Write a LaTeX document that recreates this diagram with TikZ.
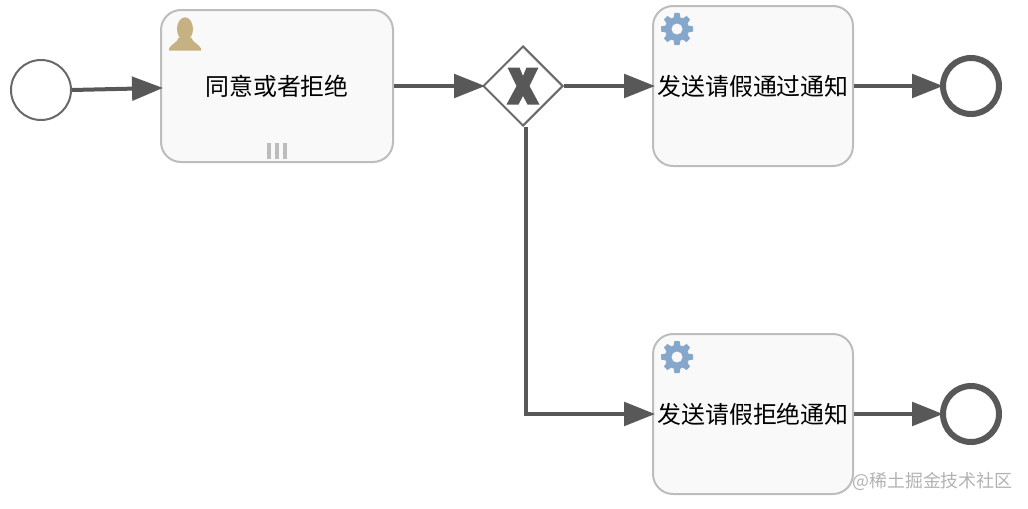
\documentclass[tikz,border=0pt]{standalone}
\usepackage{fontspec}
\setmainfont{Noto Sans CJK SC}
\usepackage{xcolor}
\usetikzlibrary{arrows.meta,positioning,calc,shapes.geometric}
\definecolor{flowgray}{HTML}{585858}
\definecolor{taskline}{HTML}{BDBDBD}
\definecolor{taskfill}{HTML}{F9F9F9}
\definecolor{usertan}{HTML}{C6B183}
\definecolor{gearblue}{HTML}{86A7CC}
\tikzset{
  startev/.style ={circle,draw=flowgray!90,line width=0.04cm,minimum size=1.2cm,inner sep=0pt},
  endev/.style   ={circle,draw=flowgray,line width=0.12cm,minimum size=1.12cm,inner sep=0pt},
  task/.style    ={draw=taskline,line width=0.04cm,fill=taskfill,rounded corners=0.4cm,inner sep=0pt,font=\fontsize{13.6}{16}\selectfont},
  usertask/.style={task,minimum width=4.64cm,minimum height=3.04cm},
  svctask/.style ={task,minimum width=4cm,minimum height=3.2cm},
  xorgate/.style ={diamond,draw=flowgray!90,line width=0.04cm,aspect=1,minimum size=1.6cm,inner sep=0pt},
  flow/.style    ={-{Triangle[length=0.62cm,width=0.47cm]},line width=0.08cm,flowgray,shorten >=-0.06cm},
  bar/.style     ={taskline,line width=0.08cm},
  xmark/.pic={
    \fill[flowgray] (-0.31,0.37) -- (-0.07,0.37) -- (0,0.2) -- (0.07,0.37) -- (0.31,0.37)
      -- (0.13,0) -- (0.33,-0.37) -- (0.09,-0.37) -- (0,-0.2) -- (-0.09,-0.37) -- (-0.33,-0.37) -- (-0.13,0) -- cycle;
  },
  usericon/.pic={
    \fill[usertan] (0,0.1) ellipse (0.16cm and 0.235cm);
    \fill[usertan] (-0.32,-0.33) -- (-0.32,-0.29) .. controls (-0.28,-0.2) and (-0.14,-0.16) .. (-0.13,-0.08)
      -- (0.13,-0.08) .. controls (0.14,-0.16) and (0.28,-0.2) .. (0.32,-0.29) -- (0.32,-0.33) -- cycle;
  },
  gearicon/.pic={
    \fill[gearblue] (0,0) circle (0.24cm);
    \foreach \ang in {0,45,...,315}
      \fill[gearblue,rotate=\ang] (-0.075,0.2) -- (-0.05,0.32) -- (0.05,0.32) -- (0.075,0.2) -- cycle;
    \fill[taskfill] (0,0) circle (0.11cm);
  },
}

\begin{document}
\begin{tikzpicture}
  \useasboundingbox (0,0) rectangle (20.56,-10.16);
  % events and tasks
  \node[startev] (start) at (0.82,-1.8) {};
  \node[usertask] (approve) at (5.54,-1.72) {同意或者拒绝};
  \node[xorgate] (gate) at (10.46,-1.72) {};
  \node[svctask] (notifyok) at (15.06,-1.72) {发送请假通过通知};
  \node[svctask] (notifyno) at (15.06,-8.28) {发送请假拒绝通知};
  \node[endev] (endok) at (19.42,-1.72) {};
  \node[endev] (endno) at (19.42,-8.28) {};
  % connectors
  \coordinate (approvein) at ($(approve.west)+(0,-0.04)$);
  \coordinate (gatefoot) at ($(gate.south)+(0.06,0)$);
  \coordinate (corner) at (gatefoot |- notifyno.west);
  \draw[flow] (start.east) -- (approvein);
  \draw[flow] (approve.east) -- (gate.west);
  \draw[flow] (gate.east) -- (notifyok.west);
  \draw[flow] (notifyok.east) -- (endok.west);
  \draw[flow] (gatefoot) -- (corner) -- (notifyno.west);
  \draw[flow] (notifyno.east) -- (endno.west);
  % markers inside the shapes
  \pic at (gate.center) {xmark};
  \pic at ($(approve.north west)+(0.5,-0.5)$) {usericon};
  \pic at ($(notifyok.north west)+(0.5,-0.48)$) {gearicon};
  \pic at ($(notifyno.north west)+(0.5,-0.48)$) {gearicon};
  \foreach \off in {-0.16,0,0.16}
    \draw[bar] ($(approve.south)+(\off,0.08)$) -- ++(0,0.32);
  % watermark
  \node[anchor=east,text=gray!60,font=\fontsize{10.2}{12}\selectfont,inner sep=0pt] (credit) at (20.26,-9.62) {@稀土掘金技术社区};
\end{tikzpicture}
\end{document}
